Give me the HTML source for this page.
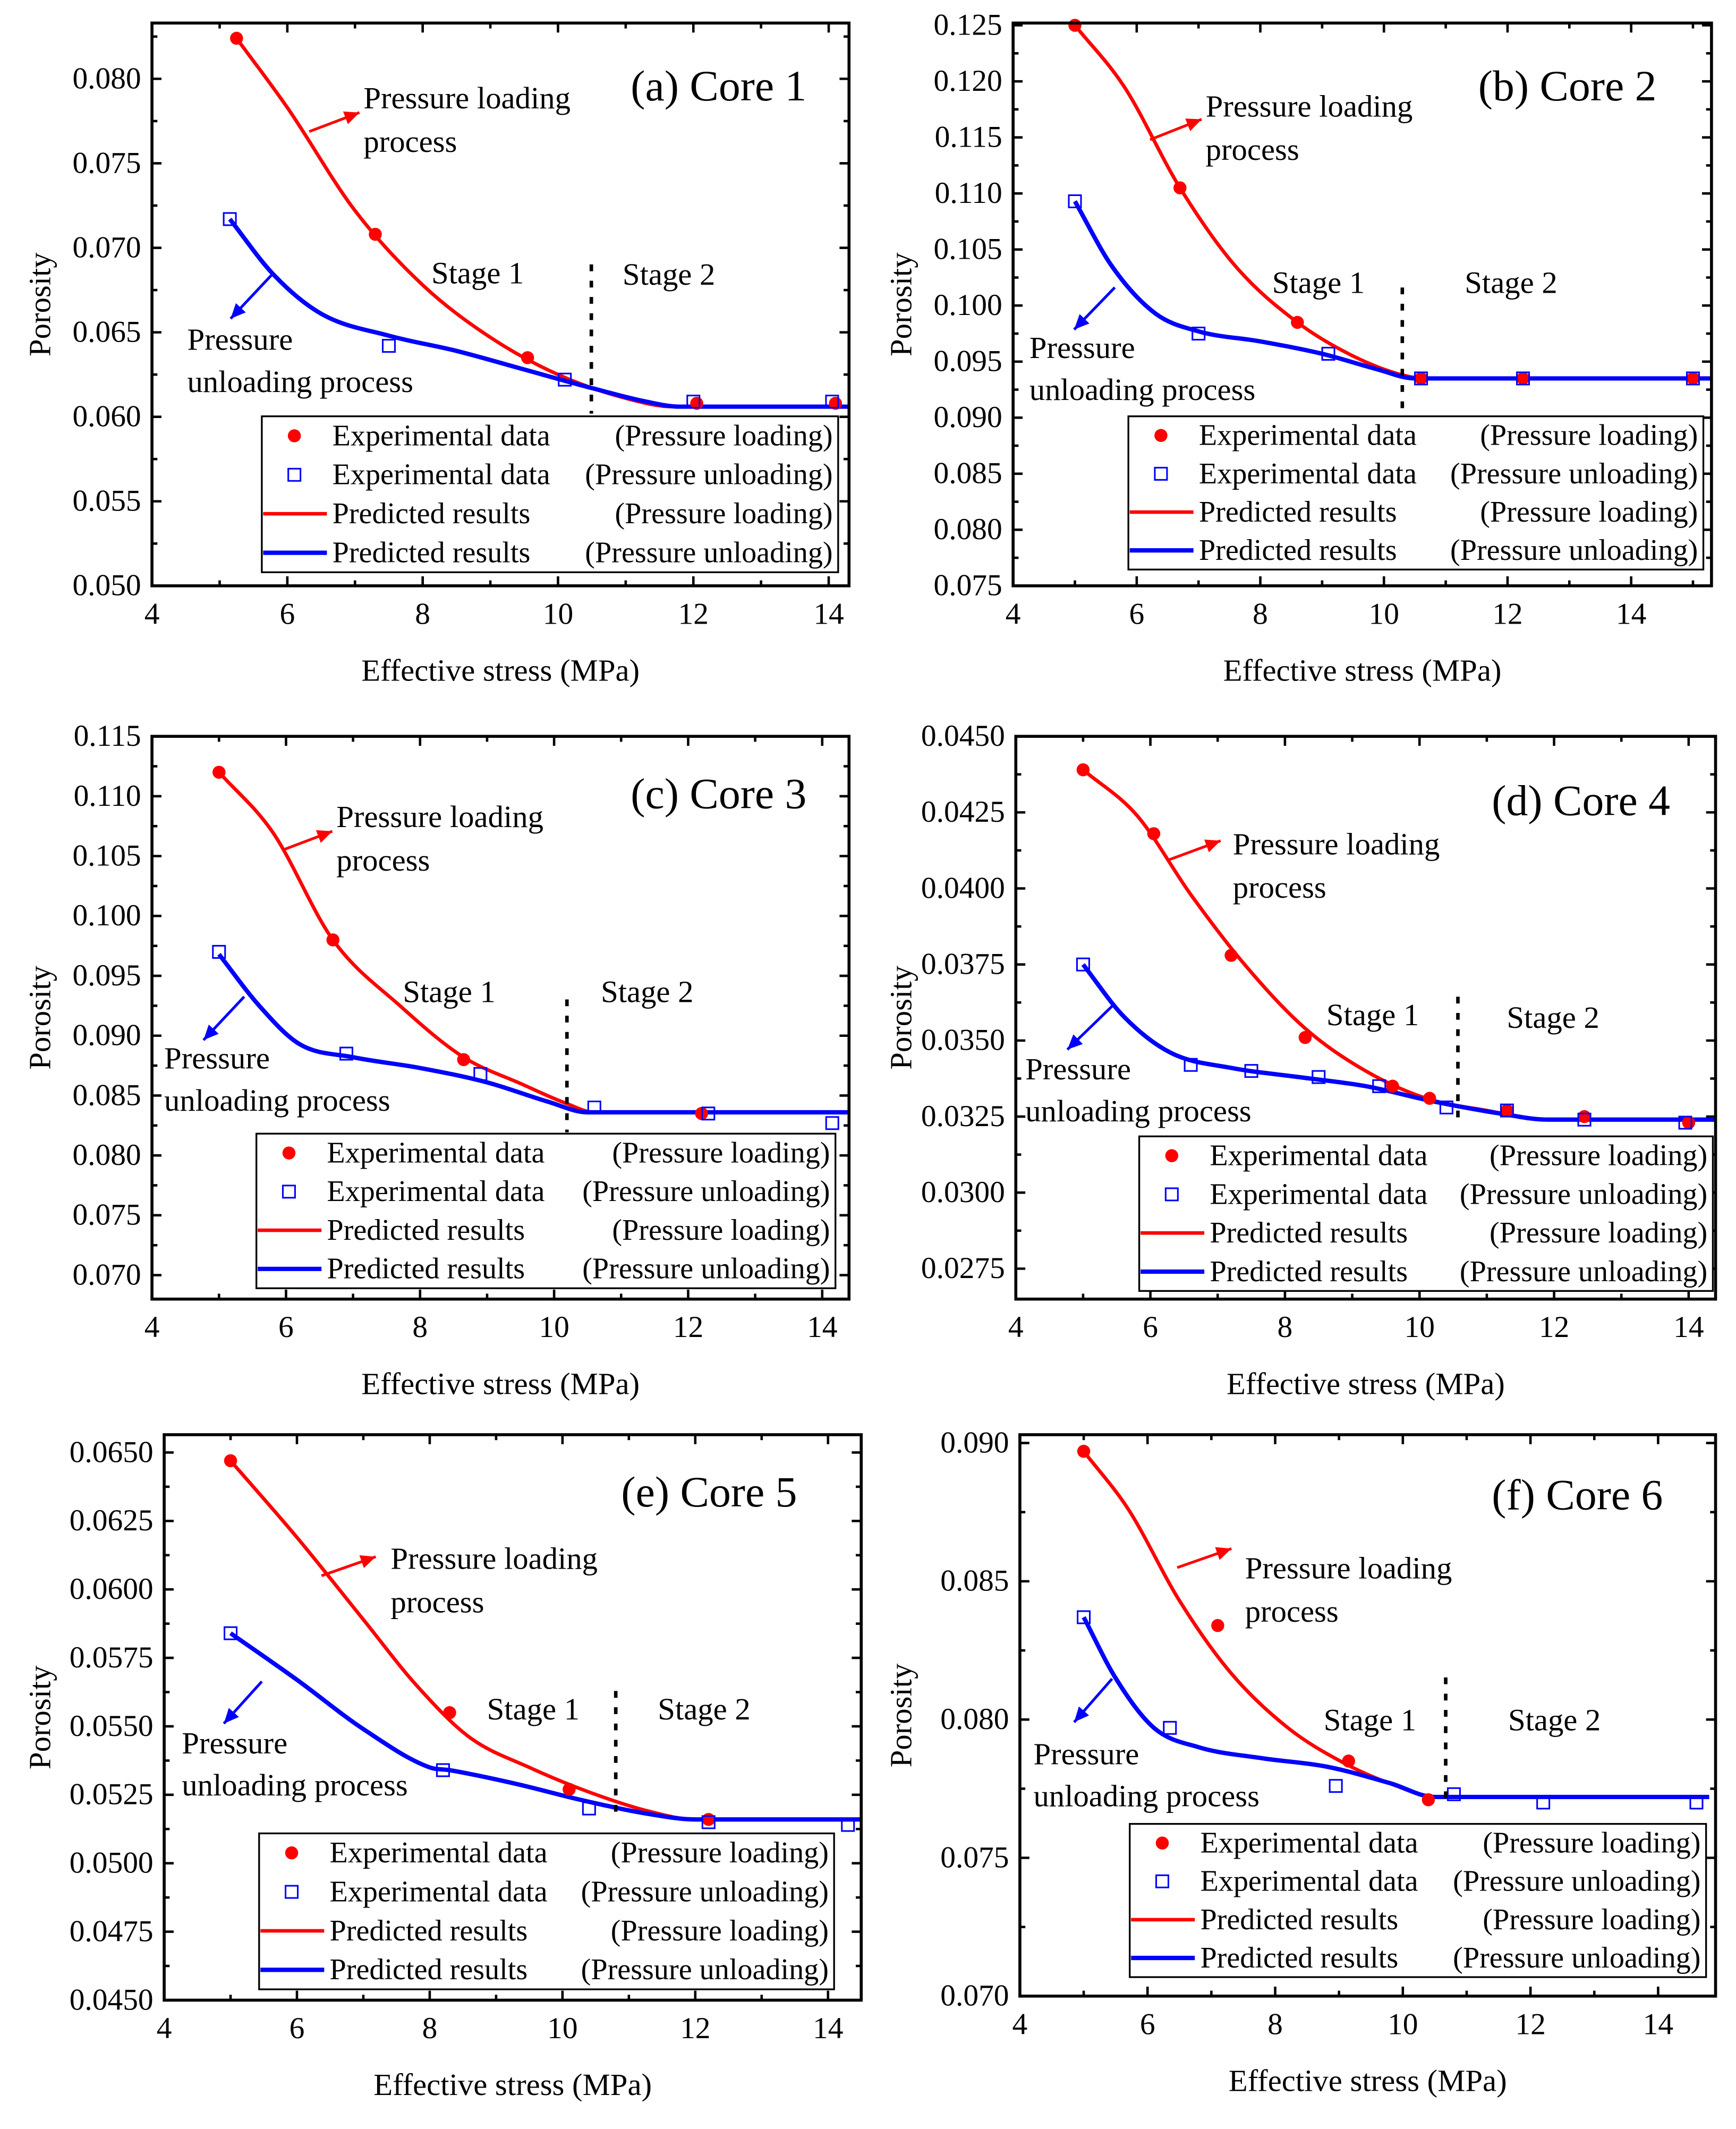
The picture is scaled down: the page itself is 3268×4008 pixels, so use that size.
<!DOCTYPE html>
<html><head><meta charset="utf-8"><style>
html,body{margin:0;padding:0;background:#fff}
svg{display:block}
text{font-family:"Liberation Serif","Times New Roman",serif;fill:#000}
</style></head><body>
<svg id="fig" width="3268" height="4008" viewBox="0 0 1280 1570" font-family="Liberation Serif, serif" xmlns="http://www.w3.org/2000/svg"></svg>
<script>
// ---------- data (per panel, small named arrays) ----------
const aLoadX=[5.25,7.3,9.55,12.05,14.1], aLoadY=[0.0824,0.0708,0.0635,0.0608,0.0608];
const aUnX=[5.15,7.5,10.1,12.0,14.05], aUnY=[0.0717,0.0642,0.0622,0.0609,0.0609];
const aPredLX=[5.25,6,7,8,9,10,11,11.7,12.2,14.3], aPredLY=[0.0824,0.0783,0.0722,0.0678,0.0647,0.0625,0.0611,0.0606,0.0606,0.0606];
const aPredUX=[5.15,5.8,6.5,7.5,8.5,9.5,10.5,11.3,11.8,14.3], aPredUY=[0.0717,0.0684,0.0661,0.0648,0.0639,0.0628,0.0617,0.0609,0.0606,0.0606];

const bLoadX=[5,6.7,8.6,10.6,12.25,15], bLoadY=[0.125,0.1105,0.0985,0.0935,0.0935,0.0935];
const bUnX=[5,7,9.1,10.6,12.25,15], bUnY=[0.1093,0.0975,0.0957,0.0935,0.0935,0.0935];
const bPredLX=[5,5.8,6.7,7.6,8.6,9.5,10.3,10.7,15.3], bPredLY=[0.125,0.1195,0.1105,0.1035,0.0985,0.0955,0.0938,0.0935,0.0935];
const bPredUX=[5,5.6,6.3,7,8,9,9.9,10.5,15.3], bPredUY=[0.1093,0.1035,0.0993,0.0977,0.0968,0.0957,0.0943,0.0935,0.0935];

const cLoadX=[5,6.7,8.65,12.2], cLoadY=[0.112,0.098,0.088,0.0835];
const cUnX=[5,6.9,8.9,10.6,12.3,14.15], cUnY=[0.097,0.0885,0.0868,0.084,0.0835,0.0827];
const cPredLX=[5,5.8,6.7,7.7,8.65,9.5,10.2,10.6,14.4], cPredLY=[0.112,0.107,0.098,0.0925,0.0882,0.086,0.0843,0.0836,0.0836];
const cPredUX=[5,5.6,6.2,7,8,9,9.9,10.5,14.4], cPredUY=[0.0968,0.0925,0.0893,0.0882,0.0873,0.0861,0.0845,0.0836,0.0836];

const dLoadX=[5,6.05,7.2,8.3,9.6,10.15,11.3,12.45,14], dLoadY=[0.0439,0.0418,0.0378,0.0351,0.0335,0.0331,0.0327,0.0325,0.0323];
const dUnX=[5,6.6,7.5,8.5,9.4,10.4,11.3,12.45,13.95], dUnY=[0.0375,0.0342,0.034,0.0338,0.0335,0.0328,0.0327,0.0324,0.0323];
const dPredLX=[5,5.8,6.6,7.4,8.3,9.2,10.1,11,11.9,14.4], dPredLY=[0.0439,0.0424,0.0398,0.0375,0.0354,0.0340,0.0331,0.0327,0.0324,0.0324];
const dPredUX=[5,5.6,6.3,7.2,8.2,9.2,10.2,11.2,11.9,14.4], dPredUY=[0.0375,0.0358,0.0346,0.0341,0.0338,0.0335,0.0330,0.0326,0.0324,0.0324];

const eLoadX=[5,8.3,10.1,12.2], eLoadY=[0.0647,0.0555,0.0527,0.0516];
const eUnX=[5,8.2,10.4,12.2,14.3], eUnY=[0.0584,0.0534,0.052,0.0515,0.0514];
const ePredLX=[5,6,7,7.8,8.6,9.5,10.4,11.3,12,14.5], ePredLY=[0.0647,0.0619,0.0589,0.0565,0.0546,0.0535,0.0526,0.0519,0.0516,0.0516];
const ePredUX=[5,6,7,8,8.3,9.3,10.3,11.3,12,14.5], ePredUY=[0.0584,0.0567,0.0549,0.0535,0.0534,0.0529,0.0523,0.0518,0.0516,0.0516];

const fLoadX=[5,7.1,9.15,10.4], fLoadY=[0.0897,0.0834,0.0785,0.0771];
const fUnX=[5,6.35,8.95,10.8,12.2,14.6], fUnY=[0.0837,0.0797,0.0776,0.0773,0.077,0.077];
const fPredLX=[5,5.7,6.5,7.3,8.2,9.1,9.9,10.5,14.8], fPredLY=[0.0897,0.0876,0.0843,0.0817,0.0797,0.0784,0.0776,0.0772,0.0772];
const fPredUX=[5,5.5,6.1,6.8,7.8,8.8,9.8,10.5,14.8], fPredUY=[0.0837,0.0815,0.0797,0.079,0.0786,0.0783,0.0777,0.0772,0.0772];

const panels=[
 {id:'a',box:[112,17,626,432],x0:4,x1:14.3,y0:0.050,y1:0.0833,yt:[0.050,0.055,0.060,0.065,0.070,0.075,0.080],ydec:3,
  L:[aLoadX,aLoadY],U:[aUnX,aUnY],PL:[aPredLX,aPredLY],PU:[aPredUX,aPredUY],
  title:'(a) Core 1',tpos:[465,74],pl:[268,80],arR:[228,97,265,83],pu:[138,258],arB:[200,203,170,235],
  stage:[436,195,305],s1:[318,209],s2:[459,210],leg:[193,307,618,422],ylab:30,xlab:494},
 {id:'b',box:[747,17,1262,432],x0:4,x1:15.3,y0:0.075,y1:0.1252,yt:[0.075,0.080,0.085,0.090,0.095,0.100,0.105,0.110,0.115,0.120,0.125],ydec:3,
  L:[bLoadX,bLoadY],U:[bUnX,bUnY],PL:[bPredLX,bPredLY],PU:[bPredUX,bPredUY],
  title:'(b) Core 2',tpos:[1090,74],pl:[889,86],arR:[848,103,886,88],pu:[759,264],arB:[822,212,792,243],
  stage:[1034,212,306],s1:[938,216],s2:[1080,216],leg:[832,307,1256,420],ylab:665,xlab:494},
 {id:'c',box:[112,543,626,958],x0:4,x1:14.4,y0:0.068,y1:0.115,yt:[0.070,0.075,0.080,0.085,0.090,0.095,0.100,0.105,0.110,0.115],ydec:3,
  L:[cLoadX,cLoadY],U:[cUnX,cUnY],PL:[cPredLX,cPredLY],PU:[cPredUX,cPredUY],
  title:'(c) Core 3',tpos:[465,596],pl:[248,610],arR:[208,627,245,613],pu:[121,788],arB:[180,735,150,767],
  stage:[418,737,835],s1:[297,739],s2:[443,739],leg:[189,836,616,950],ylab:30,xlab:1020},
 {id:'d',box:[749,543,1265,958],x0:4,x1:14.4,y0:0.0265,y1:0.0450,yt:[0.0275,0.0300,0.0325,0.0350,0.0375,0.0400,0.0425,0.0450],ydec:4,
  L:[dLoadX,dLoadY],U:[dUnX,dUnY],PL:[dPredLX,dPredLY],PU:[dPredUX,dPredUY],
  title:'(d) Core 4',tpos:[1100,601],pl:[909,630],arR:[862,634,900,620],pu:[756,796],arB:[820,742,787,774],
  stage:[1075,735,830],s1:[978,756],s2:[1111,758],leg:[840,838,1263,952],ylab:665,xlab:1020},
 {id:'e',box:[121,1058,635,1475],x0:4,x1:14.5,y0:0.0450,y1:0.06565,yt:[0.0450,0.0475,0.0500,0.0525,0.0550,0.0575,0.0600,0.0625,0.0650],ydec:4,
  L:[eLoadX,eLoadY],U:[eUnX,eUnY],PL:[ePredLX,ePredLY],PU:[ePredUX,ePredUY],
  title:'(e) Core 5',tpos:[458,1111],pl:[288,1157],arR:[237,1162,277,1148],pu:[134,1293],arB:[193,1240,165,1271],
  stage:[454,1247,1340],s1:[359,1268],s2:[485,1268],leg:[191,1352,615,1467],ylab:30,xlab:1537},
 {id:'f',box:[752,1058,1265,1472],x0:4,x1:14.9,y0:0.070,y1:0.0903,yt:[0.070,0.075,0.080,0.085,0.090],ydec:3,
  L:[fLoadX,fLoadY],U:[fUnX,fUnY],PL:[fPredLX,fPredLY],PU:[fPredUX,fPredUY],
  title:'(f) Core 6',tpos:[1100,1113],pl:[918,1164],arR:[868,1156,908,1142],pu:[762,1301],arB:[820,1238,792,1270],
  stage:[1066,1237,1333],s1:[976,1276],s2:[1112,1276],leg:[833,1345,1258,1458],ylab:665,xlab:1534}
];
const xTicks=[4,6,8,10,12,14];

const NS='http://www.w3.org/2000/svg';
const svg=document.getElementById('fig');
const FF='Liberation Serif, serif';
function mk(tag,attrs,parent,txt){const e=document.createElementNS(NS,tag);for(const k in attrs)e.setAttribute(k,attrs[k]);if(tag==='text')e.setAttribute('font-family',FF);if(txt!==undefined)e.textContent=txt;(parent||svg).appendChild(e);return e;}
// monotone cubic (Fritsch–Carlson) to avoid overshoot
function spline(p){const n=p.length;const d=[],m=[];
 for(let i=0;i<n-1;i++)d.push((p[i+1][1]-p[i][1])/(p[i+1][0]-p[i][0]));
 m[0]=d[0];m[n-1]=d[n-2];
 for(let i=1;i<n-1;i++){m[i]=(d[i-1]*d[i]<=0)?0:(d[i-1]+d[i])/2;}
 for(let i=0;i<n-1;i++){if(d[i]===0){m[i]=0;m[i+1]=0;continue;}const a=m[i]/d[i],b=m[i+1]/d[i],s=a*a+b*b;if(s>9){const t=3/Math.sqrt(s);m[i]=t*a*d[i];m[i+1]=t*b*d[i];}}
 let s='M'+p[0][0]+','+p[0][1];
 for(let i=0;i<n-1;i++){const h=(p[i+1][0]-p[i][0])/3;
  s+=` C${p[i][0]+h},${p[i][1]+m[i]*h} ${p[i+1][0]-h},${p[i+1][1]-m[i+1]*h} ${p[i+1][0]},${p[i+1][1]}`;}
 return s;}
function arrow(g,x1,y1,x2,y2,col){
 mk('line',{x1,y1,x2,y2,stroke:col,'stroke-width':2},g);
 const a=Math.atan2(y2-y1,x2-x1),L=11,W=5;
 const p=[[x2,y2],[x2-L*Math.cos(a)+W*Math.sin(a),y2-L*Math.sin(a)-W*Math.cos(a)],[x2-L*Math.cos(a)-W*Math.sin(a),y2-L*Math.sin(a)+W*Math.cos(a)]];
 mk('polygon',{points:p.map(q=>q.join(',')).join(' '),fill:col},g);}

panels.forEach(P=>{
 const g=mk('g',{});
 
 
 const [L,T,R,B]=P.box;
 const sx=v=>L+(v-P.x0)/(P.x1-P.x0)*(R-L);
 const sy=v=>B-(v-P.y0)/(P.y1-P.y0)*(B-T);
 const tg=mk('g',{stroke:'#000','stroke-width':1.8},g);
 xTicks.forEach(v=>{const x=sx(v);
  mk('line',{x1:x,y1:B,x2:x,y2:B-7},tg);mk('line',{x1:x,y1:T,x2:x,y2:T+7},tg);
  const xm=sx(v+1);if(xm<R-1){mk('line',{x1:xm,y1:B,x2:xm,y2:B-4},tg);mk('line',{x1:xm,y1:T,x2:xm,y2:T+4},tg);}
  const t=mk('text',{x:x,y:B+28,'font-size':22.5,'text-anchor':'middle'},g,String(v));
  });
 const step=P.yt[1]-P.yt[0];
 P.yt.forEach(v=>{const y=sy(v);
  mk('line',{x1:L,y1:y,x2:L+7,y2:y},tg);mk('line',{x1:R,y1:y,x2:R-7,y2:y},tg);
  const ym=sy(v+step/2);if(ym>T+1){mk('line',{x1:L,y1:ym,x2:L+4,y2:ym},tg);mk('line',{x1:R,y1:ym,x2:R-4,y2:ym},tg);}
  const t=mk('text',{x:L-8,y:y+7,'font-size':22.5,'text-anchor':'end'},g,v.toFixed(P.ydec));
  });
 const ym0=sy(P.yt[0]-step/2);if(ym0<B-1){mk('line',{x1:L,y1:ym0,x2:L+4,y2:ym0},tg);mk('line',{x1:R,y1:ym0,x2:R-4,y2:ym0},tg);}
 const clip='clip'+P.id;const cp=mk('clipPath',{id:clip},g);mk('rect',{x:L,y:T,width:R-L,height:B-T},cp);
 const pl=mk('path',{d:spline(P.PL[0].map((x,i)=>[sx(x),sy(P.PL[1][i])])),fill:'none',stroke:'#f00','stroke-width':2.6,'clip-path':`url(#${clip})`},g);
 
 const pu=mk('path',{d:spline(P.PU[0].map((x,i)=>[sx(x),sy(P.PU[1][i])])),fill:'none',stroke:'#00f','stroke-width':3.2,'clip-path':`url(#${clip})`},g);
 
 P.L[0].forEach((x,i)=>{const c=mk('circle',{cx:sx(x),cy:sy(P.L[1][i]),r:4.8,fill:'#f00'},g);
  });
 P.U[0].forEach((x,i)=>{const r=mk('rect',{x:sx(x)-4.5,y:sy(P.U[1][i])-4.5,width:9,height:9,fill:'none',stroke:'#00f','stroke-width':1.2},g);
  });
 mk('rect',{x:L,y:T,width:R-L,height:B-T,fill:'none',stroke:'#000','stroke-width':2.2},g);
 const sl=mk('line',{x1:P.stage[0],y1:P.stage[1],x2:P.stage[0],y2:P.stage[2],stroke:'#000','stroke-width':2.6,'stroke-dasharray':'5,7'},g);
 
 const s1=mk('text',{x:P.s1[0],y:P.s1[1],'font-size':23},g,'Stage 1');
 const s2=mk('text',{x:P.s2[0],y:P.s2[1],'font-size':23},g,'Stage 2');
 const ti=mk('text',{x:P.tpos[0],y:P.tpos[1],'font-size':32},g,P.title);
 const a1=mk('text',{x:P.pl[0],y:P.pl[1],'font-size':23},g,'Pressure loading');
 mk('text',{x:P.pl[0],y:P.pl[1]+32,'font-size':23},g,'process');
 arrow(g,...P.arR,'#f00');
 const a2=mk('text',{x:P.pu[0],y:P.pu[1],'font-size':23},g,'Pressure');
 mk('text',{x:P.pu[0],y:P.pu[1]+31,'font-size':23},g,'unloading process');
 arrow(g,...P.arB,'#00f');
 const [lx,ly,lr,lb]=P.leg;const lg=mk('g',{},g);
 
 mk('rect',{x:lx,y:ly,width:lr-lx,height:lb-ly,fill:'#fff',stroke:'#000','stroke-width':1.3},lg);
 const rh=(lb-ly)/4;
 const rows=[['Experimental data','(Pressure loading)'],['Experimental data','(Pressure unloading)'],['Predicted results','(Pressure loading)'],['Predicted results','(Pressure unloading)']];
 rows.forEach((r,i)=>{const cy=ly+rh*(i+0.5);
  if(i==0)mk('circle',{cx:lx+24,cy:cy,r:4.8,fill:'#f00'},lg);
  if(i==1)mk('rect',{x:lx+19.5,y:cy-4.5,width:9,height:9,fill:'none',stroke:'#00f','stroke-width':1.2},lg);
  if(i==2)mk('line',{x1:lx+1,y1:cy,x2:lx+48,y2:cy,stroke:'#f00','stroke-width':2.6},lg);
  if(i==3)mk('line',{x1:lx+1,y1:cy,x2:lx+48,y2:cy,stroke:'#00f','stroke-width':3.2},lg);
  const t=mk('text',{x:lx+52,y:cy+7,'font-size':22},lg,r[0]);
  mk('text',{x:lr-4,y:cy+7,'font-size':22,'text-anchor':'end'},lg,r[1]);});
 const xt=mk('text',{x:(L+R)/2,y:P.xlab+8,'font-size':23,'text-anchor':'middle'},g,'Effective stress (MPa)');
 
 const yc=(T+B)/2;
 const yt=mk('text',{x:P.ylab,y:yc,'font-size':23,'text-anchor':'middle',transform:`rotate(-90 ${P.ylab} ${yc}) translate(0 7)`},g,'Porosity');
 
});
</script>
</body></html>
